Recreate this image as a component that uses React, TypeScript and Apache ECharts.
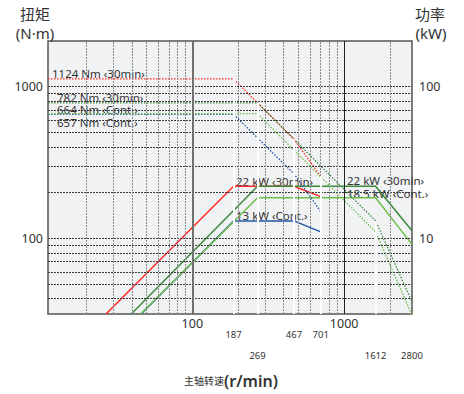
import React, { useEffect, useRef } from 'react';
import * as echarts from 'echarts';

// Axis ranges
const speedMin = 11.2;
const speedMax = 2800;
const torqueMin = 31.6;
const torqueMax = 2000;
const powerMin = 3.16;
const powerMax = 200;

// Tick labels
const speedTickLabels = [100, 1000];
const torqueTickLabels = [100, 1000];
const powerTickLabels = [10, 100];

// Grid lines
const xGridMinor = [20, 30, 40, 50, 60, 70, 80, 90, 200, 300, 400, 500, 600, 700, 800, 900, 2000];
const xGridMajor = [100, 1000];
const yGridLines = [40, 50, 60, 70, 80, 90, 100, 200, 300, 400, 500, 600, 700, 800, 900, 1000];

// Characteristic speeds (white drop lines + labels)
const markSpeeds = [187, 467, 701, 269, 1612, 2800];
const markTorqueTop = [1124, 450, 256, 782, 130, 40];
const markRow = [1, 1, 1, 2, 2, 2];

// Red: 22 kW <30min> (motor A)
const redSpeed = [11.2, 187, 467, 701];
const redTorque = [1124, 1124, 450, 256];
const redPowerSpeed = [27, 187, 467, 701];
const redPower = [3.16, 22, 22, 18.8];

// Blue: 13 kW <Cont.> (motor A)
const blueSpeed = [11.2, 187, 467, 701];
const blueTorque = [657, 657, 266, 150];
const bluePowerSpeed = [46, 187, 467, 701];
const bluePower = [3.16, 13, 13, 11.0];

// Dark green: 22 kW <30min> (motor B)
const dgSpeed = [11.2, 269, 1612, 2800];
const dgTorque = [782, 782, 130, 38];
const dgPowerSpeed = [39.6, 269, 1612, 2800];
const dgPower = [3.16, 22, 22, 11.2];

// Light green: 18.5 kW <Cont.> (motor B)
const lgSpeed = [11.2, 269, 1612, 2800];
const lgTorque = [664, 664, 110, 31];
const lgPowerSpeed = [45.6, 269, 1612, 2800];
const lgPower = [3.16, 18.5, 18.5, 9.1];

const RED = '#ff2a2a';
const BLUE = '#2456a8';
const DG = '#3b8a3b';
const LG = '#6cc04a';

const FONT = '"Noto Sans", "Noto Sans CJK SC", sans-serif';
const TXT = '#333';

const zip = (xs: number[], ys: number[]) => xs.map((x, i) => [x, ys[i]]);

const curve = (xs: number[], ys: number[], color: string, dotted: boolean, yAxisIndex: number, z: number) => ({
  type: 'line',
  data: zip(xs, ys),
  xAxisIndex: 0,
  yAxisIndex,
  symbol: 'none',
  silent: true,
  z,
  lineStyle: dotted
    ? { color, width: 1.3, type: [1.5, 1.5] }
    : { color, width: 1.5, type: 'solid' },
});

const roundIn = (list: number[]) => (v: number) => {
  const r = Math.round(v);
  return list.includes(r) && Math.abs(v - r) < 0.01 ? String(r) : '';
};

const textEl = (text: string, x: number, y: number, fontSize: number, align = 'left') => ({
  type: 'text',
  x,
  y,
  z: 1,
  silent: true,
  style: {
    text,
    fill: TXT,
    fontSize,
    fontFamily: FONT,
    textAlign: align,
    textVerticalAlign: 'middle',
    verticalAlign: 'middle',
  },
});

const option: any = {
  animation: false,
  grid: {
    left: 48,
    right: 52,
    top: 41,
    bottom: 80,
    show: true,
    backgroundColor: '#f1f2f4',
    borderColor: '#555',
    borderWidth: 1.5,
    z: 0,
  },
  xAxis: [
    {
      type: 'log',
      logBase: 10,
      min: speedMin,
      max: speedMax,
      splitLine: { show: false },
      axisLine: { show: false },
      axisTick: { show: false },
      axisLabel: {
        formatter: roundIn(speedTickLabels),
        fontSize: 12.5,
        color: TXT,
        fontFamily: FONT,
        margin: 3,
      },
    },
  ],
  yAxis: [
    {
      type: 'log',
      logBase: 10,
      position: 'left',
      min: torqueMin,
      max: torqueMax,
      splitLine: { show: false },
      axisLine: { show: false },
      axisTick: { show: false },
      axisLabel: {
        formatter: roundIn(torqueTickLabels),
        fontSize: 12.5,
        color: TXT,
        fontFamily: FONT,
        margin: 5,
      },
    },
    {
      type: 'log',
      logBase: 10,
      position: 'right',
      min: powerMin,
      max: powerMax,
      splitLine: { show: false },
      axisLine: { show: false },
      axisTick: { show: false },
      axisLabel: {
        formatter: roundIn(powerTickLabels),
        fontSize: 12.5,
        color: TXT,
        fontFamily: FONT,
        margin: 7,
      },
    },
  ],
  series: [
    {
      type: 'line',
      data: [],
      xAxisIndex: 0,
      yAxisIndex: 0,
      silent: true,
      z: 2,
      markLine: {
        silent: true,
        symbol: 'none',
        animation: false,
        label: { show: false },
        data: [
          ...yGridLines.map((v) => ({ yAxis: v, lineStyle: { color: '#3c3c3c', width: 1, type: [2, 1] } })),
          ...xGridMinor.map((v) => ({ xAxis: v, lineStyle: { color: '#8a8a8a', width: 1, type: [2, 1] } })),
          { xAxis: xGridMajor[0], lineStyle: { color: '#707070', width: 2, type: 'solid' } },
          { xAxis: xGridMajor[1], lineStyle: { color: '#222', width: 1, type: 'solid' } },
        ],
      },
    },
    curve(redPowerSpeed, redPower, RED, false, 1, 3),
    curve(bluePowerSpeed, bluePower, BLUE, false, 1, 3),
    curve(lgPowerSpeed, lgPower, LG, false, 1, 3),
    curve(dgPowerSpeed, dgPower, DG, false, 1, 3),
    curve(redSpeed, redTorque, RED, true, 0, 3),
    curve(blueSpeed, blueTorque, BLUE, true, 0, 3),
    curve(lgSpeed, lgTorque, LG, true, 0, 3),
    curve(dgSpeed, dgTorque, DG, true, 0, 3),
    {
      type: 'line',
      data: [],
      xAxisIndex: 0,
      yAxisIndex: 0,
      silent: true,
      clip: false,
      z: 4,
      markLine: {
        silent: true,
        symbol: 'none',
        animation: false,
        data: markSpeeds.map((s, i) => {
          const sx = Math.min(s, speedMax * 0.9995);
          return [
            {
              coord: [sx, markTorqueTop[i]],
              lineStyle: {
                color: s >= speedMax ? 'rgba(255,255,255,0)' : '#ffffff',
                width: 2,
                type: 'solid',
              },
              label: {
                show: true,
                position: 'end',
                formatter: String(s),
                distance: markRow[i] === 1 ? 16 : 37,
                fontSize: 9.5,
                color: TXT,
                fontFamily: FONT,
                opacity: 1,
              },
            },
            { coord: [sx, torqueMin * 1.0005] },
          ];
        }),
      },
    },
  ],
  graphic: [
    textEl('扭矩', 35, 14, 15, 'center'),
    textEl('(N·m)', 35, 33, 15, 'center'),
    textEl('功率', 430, 14, 15, 'center'),
    textEl('(kW)', 431, 33, 15, 'center'),
    textEl('1124 Nm ‹30min›', 52, 73, 11.5),
    textEl('782 Nm ‹30min›', 57, 97, 11.5),
    textEl('664 Nm ‹Cont.›', 57, 109, 11.5),
    textEl('657 Nm ‹Cont.›', 57, 122, 11.5),
    textEl('22 kW ‹30min›', 236, 181, 11.5),
    textEl('13 kW ‹Cont.›', 236, 215, 11.5),
    textEl('22 kW ‹30min›', 347, 180, 11.5),
    textEl('18.5 kW ‹Cont.›', 347, 193, 11.5),
    {
      type: 'text',
      x: 231,
      y: 381,
      z: 1,
      silent: true,
      style: {
        text: '{a|主轴转速}{b|(r/min)}',
        fill: TXT,
        textAlign: 'center',
        textVerticalAlign: 'middle',
        verticalAlign: 'middle',
        rich: {
          a: { fontSize: 10, fontFamily: FONT, fill: TXT, color: TXT },
          b: { fontSize: 16, fontWeight: 600, fontFamily: FONT, fill: TXT, color: TXT },
        },
      },
    },
  ],
};

export default function App() {
  const ref = useRef<HTMLDivElement>(null);
  useEffect(() => {
    document.body.style.margin = '0';
    const chart = echarts.init(ref.current as HTMLDivElement, null, { renderer: 'svg' });
    chart.setOption(option);
    return () => chart.dispose();
  }, []);
  return <div ref={ref} style={{ width: 464, height: 394 }} />;
}
